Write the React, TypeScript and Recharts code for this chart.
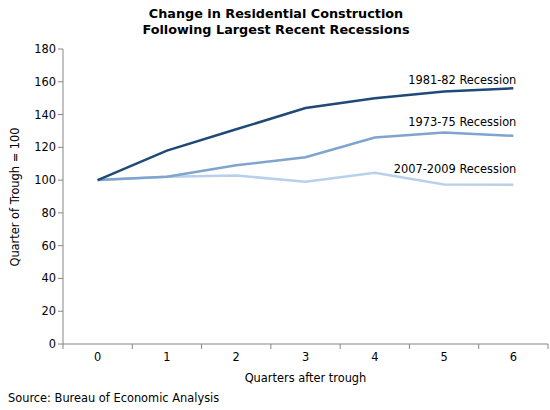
import React from "react";
import { LineChart, Line, XAxis, YAxis } from "recharts";

const quarters = [0, 1, 2, 3, 4, 5, 6];
const rec1981 = [100, 118, 131, 144, 150, 154, 156];
const rec1973 = [100, 102, 109, 114, 126, 129, 127];
const rec2007 = [100, 102, 102.8, 99, 104.5, 97.3, 97.2];
const yTicks = [0, 20, 40, 60, 80, 100, 120, 140, 160, 180];
const bandEdges = [-0.5, 0.5, 1.5, 2.5, 3.5, 4.5, 5.5, 6.5];

const data = quarters.map((q, i) => ({
  q,
  a: rec1981[i],
  b: rec1973[i],
  c: rec2007[i],
}));

const FONT = "'DejaVu Sans', Verdana, sans-serif";
const AXIS = "#868686";
const FS = 11.4;

const endLabel = (text: string, dy: number) => (props: any) => {
  const { x, y, index } = props;
  if (index !== quarters.length - 1) return null;
  return (
    <text
      x={x + 3}
      y={y + dy}
      textAnchor="end"
      fontFamily={FONT}
      fontSize={FS}
      fill="#000"
    >
      {text}
    </text>
  );
};

export default function App() {
  return (
    <div
      style={{
        position: "absolute",
        left: 0,
        top: 0,
        width: 550,
        height: 410,
        background: "#fff",
        fontFamily: FONT,
      }}
    >
      <div
        style={{
          position: "absolute",
          top: 6,
          left: 0,
          width: 552,
          textAlign: "center",
          fontWeight: "bold",
          fontSize: 12.8,
          lineHeight: "16px",
          color: "#000",
        }}
      >
        Change in Residential Construction
        <br />
        Following Largest Recent Recessions
      </div>
      <LineChart
        width={550}
        height={410}
        data={data}
        margin={{ top: 49, right: 2, bottom: 0, left: 0 }}
      >
        <XAxis
          xAxisId="grid"
          dataKey="q"
          type="number"
          domain={[-0.5, 6.5]}
          ticks={bandEdges}
          interval={0}
          tick={() => <g />}
          tickSize={5}
          height={1}
          stroke={AXIS}
          axisLine={{ stroke: AXIS }}
          tickLine={{ stroke: AXIS }}
        />
        <XAxis
          xAxisId="main"
          dataKey="q"
          type="number"
          domain={[-0.5, 6.5]}
          ticks={quarters}
          interval={0}
          axisLine={false}
          tickLine={false}
          tickSize={4}
          tickMargin={4}
          height={65}
          tick={{ fill: "#000", fontSize: FS, fontFamily: FONT }}
        />
        <YAxis
          domain={[0, 180]}
          ticks={yTicks}
          width={63}
          interval={0}
          tickSize={5}
          tickMargin={2}
          axisLine={{ stroke: AXIS }}
          tickLine={{ stroke: AXIS }}
          tick={{ fill: "#000", fontSize: FS, fontFamily: FONT }}
        />
        <Line
          xAxisId="main"
          dataKey="c"
          stroke="#B8D0EC"
          strokeWidth={2.5}
          dot={false}
          isAnimationActive={false}
          label={endLabel("2007-2009 Recession", -12)}
        />
        <Line
          xAxisId="main"
          dataKey="b"
          stroke="#7FA4CF"
          strokeWidth={2.5}
          dot={false}
          isAnimationActive={false}
          label={endLabel("1973-75 Recession", -10)}
        />
        <Line
          xAxisId="main"
          dataKey="a"
          stroke="#1F4A78"
          strokeWidth={2.5}
          dot={false}
          isAnimationActive={false}
          label={endLabel("1981-82 Recession", -4)}
        />
      </LineChart>
      <div
        style={{
          position: "absolute",
          top: 371,
          left: 63,
          width: 485,
          textAlign: "center",
          fontSize: FS,
          color: "#000",
        }}
      >
        Quarters after trough
      </div>
      <div
        style={{
          position: "absolute",
          top: 391,
          left: 8,
          fontSize: FS,
          color: "#000",
        }}
      >
        Source: Bureau of Economic Analysis
      </div>
      <div
        style={{
          position: "absolute",
          left: 15,
          top: 197,
          width: 200,
          marginLeft: -100,
          marginTop: -8,
          textAlign: "center",
          fontSize: FS,
          lineHeight: "16px",
          color: "#000",
          transform: "rotate(-90deg)",
        }}
      >
        Quarter of Trough = 100
      </div>
    </div>
  );
}
